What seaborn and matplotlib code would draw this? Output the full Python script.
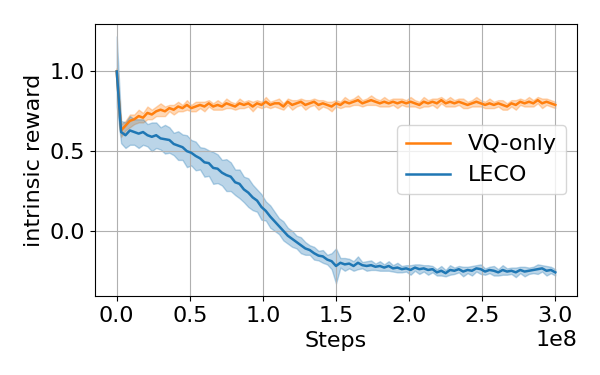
import numpy as np
import pandas as pd
import matplotlib
matplotlib.use("Agg")
import matplotlib.pyplot as plt
import seaborn as sns

# logged every 3e6 steps, 0 .. 3e8
steps = np.arange(101) * 3e6

leco_mean = [
    1.00, 0.62, 0.60, 0.63, 0.62, 0.61, 0.62, 0.60, 0.59, 0.60,
    0.58, 0.575, 0.57, 0.545, 0.535, 0.525, 0.50, 0.49, 0.47, 0.455,
    0.43, 0.425, 0.395, 0.39, 0.365, 0.35, 0.34, 0.305, 0.295, 0.26,
    0.24, 0.21, 0.19, 0.15, 0.125, 0.09, 0.06, 0.03, 0.00, -0.03,
    -0.05, -0.07, -0.09, -0.11, -0.12, -0.14, -0.155, -0.16, -0.18, -0.19,
    -0.22, -0.20, -0.21, -0.205, -0.22, -0.20, -0.215, -0.22, -0.215, -0.225,
    -0.22, -0.23, -0.22, -0.235, -0.23, -0.24, -0.235, -0.245, -0.23, -0.24,
    -0.235, -0.245, -0.24, -0.26, -0.25, -0.265, -0.245, -0.25, -0.24, -0.255,
    -0.245, -0.25, -0.235, -0.24, -0.255, -0.245, -0.25, -0.26, -0.245, -0.255,
    -0.25, -0.26, -0.245, -0.255, -0.25, -0.245, -0.24, -0.235, -0.25, -0.245,
    -0.26,
]
leco_spread = [
    0.22, 0.07, 0.08, 0.09, 0.08, 0.09, 0.08, 0.07, 0.09, 0.08,
    0.07, 0.09, 0.08, 0.07, 0.09, 0.08, 0.10, 0.08, 0.09, 0.07,
    0.09, 0.08, 0.10, 0.09, 0.08, 0.10, 0.09, 0.08, 0.09, 0.08,
    0.09, 0.08, 0.07, 0.08, 0.06, 0.07, 0.06, 0.05, 0.06, 0.05,
    0.05, 0.04, 0.05, 0.04, 0.03, 0.04, 0.03, 0.04, 0.03, 0.05,
    0.11, 0.03, 0.04, 0.03, 0.03, 0.04, 0.02, 0.03, 0.03, 0.02,
    0.03, 0.02, 0.03, 0.02, 0.03, 0.02, 0.02, 0.03, 0.02, 0.03,
    0.02, 0.03, 0.02, 0.02, 0.03, 0.02, 0.03, 0.02, 0.02, 0.03,
    0.02, 0.03, 0.02, 0.03, 0.02, 0.02, 0.03, 0.02, 0.03, 0.02,
    0.02, 0.03, 0.02, 0.03, 0.02, 0.02, 0.03, 0.02, 0.03, 0.02,
    0.02,
]

vq_mean = [
    1.00, 0.63, 0.66, 0.69, 0.70, 0.72, 0.71, 0.74, 0.73, 0.75,
    0.76, 0.75, 0.77, 0.76, 0.78, 0.77, 0.79, 0.77, 0.78, 0.79,
    0.78, 0.80, 0.78, 0.79, 0.78, 0.80, 0.79, 0.78, 0.80, 0.79,
    0.80, 0.78, 0.80, 0.79, 0.81, 0.79, 0.80, 0.80, 0.78, 0.81,
    0.79, 0.80, 0.81, 0.79, 0.80, 0.81, 0.79, 0.80, 0.79, 0.78,
    0.80, 0.79, 0.81, 0.80, 0.81, 0.82, 0.80, 0.81, 0.82, 0.81,
    0.80, 0.81, 0.80, 0.81, 0.80, 0.81, 0.80, 0.81, 0.80, 0.79,
    0.81, 0.80, 0.81, 0.80, 0.82, 0.80, 0.81, 0.80, 0.81, 0.80,
    0.79, 0.80, 0.81, 0.80, 0.79, 0.80, 0.79, 0.80, 0.79, 0.78,
    0.80, 0.79, 0.81, 0.80, 0.81, 0.80, 0.82, 0.80, 0.81, 0.80,
    0.79,
]
vq_spread = [
    0.02, 0.04, 0.03, 0.04, 0.03, 0.04, 0.03, 0.04, 0.03, 0.03,
    0.04, 0.03, 0.02, 0.03, 0.03, 0.02, 0.03, 0.02, 0.03, 0.02,
    0.03, 0.02, 0.02, 0.03, 0.02, 0.03, 0.02, 0.02, 0.03, 0.02,
    0.02, 0.03, 0.02, 0.02, 0.03, 0.02, 0.02, 0.03, 0.02, 0.02,
    0.03, 0.02, 0.02, 0.03, 0.02, 0.02, 0.03, 0.02, 0.02, 0.03,
    0.02, 0.02, 0.03, 0.02, 0.02, 0.03, 0.02, 0.02, 0.03, 0.02,
    0.02, 0.03, 0.02, 0.02, 0.03, 0.02, 0.02, 0.03, 0.02, 0.02,
    0.03, 0.02, 0.02, 0.03, 0.02, 0.02, 0.03, 0.02, 0.02, 0.03,
    0.02, 0.02, 0.03, 0.02, 0.02, 0.03, 0.02, 0.02, 0.03, 0.02,
    0.02, 0.03, 0.02, 0.02, 0.03, 0.02, 0.02, 0.03, 0.02, 0.02,
    0.02,
]

methods = ["VQ-only", "LECO"]
colors = {"VQ-only": "#ff7f0e", "LECO": "#1f77b4"}

df = pd.concat([
    pd.DataFrame({"steps": steps, "reward": vq_mean, "spread": vq_spread, "method": "VQ-only"}),
    pd.DataFrame({"steps": steps, "reward": leco_mean, "spread": leco_spread, "method": "LECO"}),
])

plt.rcParams["font.size"] = 16
fig, ax = plt.subplots(figsize=(6, 3.75), dpi=100)
fig.subplots_adjust(left=0.158, right=0.962, top=0.936, bottom=0.211)

for m in methods:
    d = df[df.method == m]
    ax.fill_between(d.steps, d.reward - d.spread, d.reward + d.spread,
                    color=colors[m], alpha=0.3, linewidth=1)

sns.lineplot(data=df, x="steps", y="reward", hue="method", hue_order=methods,
             palette=colors, errorbar=None, linewidth=1.8, ax=ax)

ax.grid(True)
ax.set_xlabel("Steps")
ax.set_ylabel("intrinsic reward")
ax.set_yticks([0.0, 0.5, 1.0])
ax.legend(loc="center right", title=None)

fig.savefig("out.png")
